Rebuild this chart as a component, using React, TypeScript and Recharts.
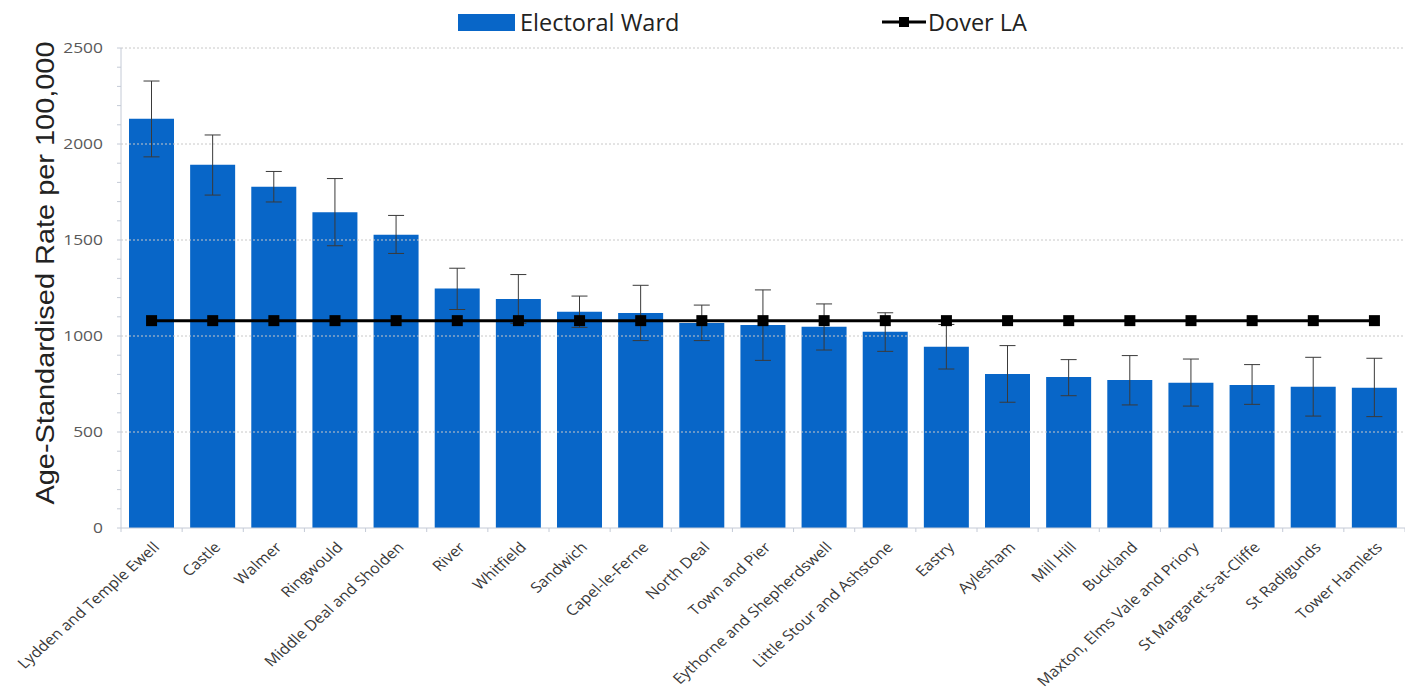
import React from 'react';
import { ComposedChart, Bar, Line, XAxis, YAxis, ErrorBar, Legend, ReferenceLine } from 'recharts';

const wards = [
  'Lydden and Temple Ewell', 'Castle', 'Walmer', 'Ringwould', 'Middle Deal and Sholden',
  'River', 'Whitfield', 'Sandwich', 'Capel-le-Ferne', 'North Deal', 'Town and Pier',
  'Eythorne and Shepherdswell', 'Little Stour and Ashstone', 'Eastry', 'Aylesham',
  'Mill Hill', 'Buckland', 'Maxton, Elms Vale and Priory', "St Margaret's-at-Cliffe",
  'St Radigunds', 'Tower Hamlets',
];
const wardRates = [2132, 1892, 1777, 1645, 1527, 1247, 1193, 1126, 1120, 1068, 1057, 1048, 1022, 944, 802, 786, 771, 757, 745, 736, 731];
const lowerCI = [1933, 1734, 1698, 1470, 1430, 1138, 1066, 1045, 976, 976, 873, 927, 920, 828, 655, 689, 641, 635, 644, 583, 580];
const upperCI = [2328, 2047, 1857, 1820, 1628, 1353, 1320, 1208, 1264, 1161, 1240, 1167, 1121, 1060, 950, 877, 898, 880, 851, 889, 884];
const doverLA = [1080, 1080, 1080, 1080, 1080, 1080, 1080, 1080, 1080, 1080, 1080, 1080, 1080, 1080, 1080, 1080, 1080, 1080, 1080, 1080, 1080];
const majorTicks = [0, 500, 1000, 1500, 2000, 2500];
const gridValues = [500, 1000, 1500, 2000, 2500];
const minorTicks = [0, 100, 200, 300, 400, 500, 600, 700, 800, 900, 1000, 1100, 1200, 1300, 1400, 1500, 1600, 1700, 1800, 1900, 2000, 2100, 2200, 2300, 2400, 2500];

const data = wards.map((w, i) => ({
  ward: w,
  rate: wardRates[i],
  ci: [wardRates[i] - lowerCI[i], upperCI[i] - wardRates[i]],
  dover: doverLA[i],
}));

const BLUE = '#0866c8';
const AXIS = '#c4cad6';
const TICK_FONT = '"Open Sans", sans-serif';

const WardTick = (props: any) => {
  const { x, y, payload, index, visibleTicksCount } = props;
  const half = payload && payload.offset ? payload.offset : 30.6;
  const last = index === (visibleTicksCount ?? wards.length) - 1;
  return (
    <g>
      <line x1={x - half} y1={y - 8} x2={x - half} y2={y - 4} stroke={AXIS} />
      {last ? <line x1={x + half} y1={y - 8} x2={x + half} y2={y - 4} stroke={AXIS} /> : null}
      <g transform={`translate(${x + 4},${y + 8}) scale(1.12,1) rotate(-45)`}>
        <text x={0} y={6} textAnchor="end" fill="#383838" fontSize={14.5} fontFamily={TICK_FONT}>
          {payload.value}
        </text>
      </g>
    </g>
  );
};

const RateTick = (props: any) => {
  const { x, y, payload } = props;
  if (!majorTicks.includes(payload.value)) return null;
  return (
    <g transform={`translate(${x - 12},${y + 5}) scale(1.2,1)`}>
      <text x={0} y={0} textAnchor="end" fill="#595959" fontSize={14.5} fontFamily={TICK_FONT}>
        {payload.value}
      </text>
    </g>
  );
};

const SquareDot = (props: any) => {
  const { cx, cy, index } = props;
  if (cx == null || cy == null) return null;
  return <rect key={`d${index}`} x={cx - 5.5} y={cy - 5.5} width={11} height={11} fill="#000" />;
};

const LegendContent = () => (
  <div style={{ position: 'relative', width: 1405, height: 48, fontFamily: TICK_FONT, fontSize: 23.5, color: '#222' }}>
    <div style={{ position: 'absolute', left: 458, top: 14, width: 57, height: 17, background: BLUE }} />
    <div style={{ position: 'absolute', left: 520, top: 6, lineHeight: '32px' }}>Electoral Ward</div>
    <svg style={{ position: 'absolute', left: 882, top: 9 }} width={44} height={26}>
      <line x1={0} y1={13} x2={44} y2={13} stroke="#000" strokeWidth={3} />
      <rect x={17} y={8} width={10} height={10} fill="#000" />
    </svg>
    <div style={{ position: 'absolute', left: 928, top: 6, lineHeight: '32px' }}>Dover LA</div>
  </div>
);

const YLabel = (props: any) => {
  const vb = props.viewBox || { x: 0, y: 48, width: 121, height: 480 };
  const cx = 45;
  const cy = vb.y + vb.height / 2 - 15;
  return (
    <text x={cx} y={cy} transform={`rotate(-90, ${cx}, ${cy})`} textAnchor="middle" dominantBaseline="central"
      fill="#222" fontSize={26} textLength={463} lengthAdjust="spacingAndGlyphs"
      fontFamily='"Liberation Sans", Arial, sans-serif'>
      Age-Standardised Rate per 100,000
    </text>
  );
};

export default function App() {
  return (
    <div style={{ position: 'absolute', left: 0, top: 0, width: 1405, height: 692, background: '#fff' }}>
      <ComposedChart width={1405} height={692} data={data} margin={{ top: 0, right: 0, bottom: 0, left: 0 }}>
        <Legend verticalAlign="top" align="left" wrapperStyle={{ top: 0, left: 0, width: 1405, height: 48 }} content={<LegendContent />} />
        {gridValues.map((v) => (
          <ReferenceLine key={v} y={v} stroke="#c8c8c8" strokeDasharray="2 2" />
        ))}
        <XAxis dataKey="ward" interval={0} height={164} tickLine={false} axisLine={{ stroke: AXIS }} tick={<WardTick />} />
        <YAxis width={121} domain={[0, 2500]} ticks={minorTicks} interval={0} tickSize={4} tickLine={{ stroke: AXIS }}
          axisLine={{ stroke: AXIS }} tick={<RateTick />}
          label={{ content: (p: any) => <YLabel {...p} /> }} />
        <Bar dataKey="rate" name="Electoral Ward" fill={BLUE} barSize={45} isAnimationActive={false}>
          <ErrorBar dataKey="ci" width={8} stroke="#3a3a3a" strokeWidth={1} direction="y" />
        </Bar>
        <Line dataKey="dover" name="Dover LA" stroke="#000" strokeWidth={3} dot={<SquareDot />} activeDot={false} isAnimationActive={false} />
      </ComposedChart>
    </div>
  );
}
